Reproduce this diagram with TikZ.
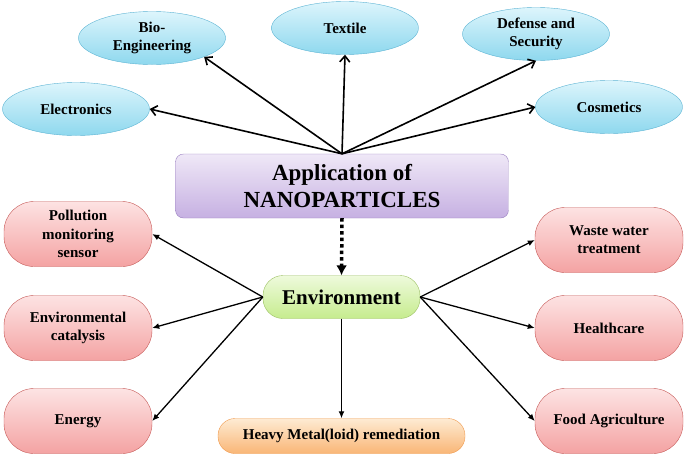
\documentclass[tikz,border=0pt]{standalone}
\usepackage{fontspec}
\setmainfont{Liberation Serif}
\usetikzlibrary{arrows.meta,shapes.geometric,positioning}
\definecolor{cyanTop}{HTML}{DDF5FC}
\definecolor{cyanBot}{HTML}{8ED8EE}
\definecolor{cyanLine}{HTML}{5BB3D3}
\definecolor{lilacTop}{HTML}{EFE8F7}
\definecolor{lilacBot}{HTML}{C6B0E2}
\definecolor{lilacLine}{HTML}{9A80C0}
\definecolor{pinkTop}{HTML}{FDE3E3}
\definecolor{pinkBot}{HTML}{F4A2A2}
\definecolor{pinkLine}{HTML}{C65A58}
\definecolor{greenTop}{HTML}{EEFADC}
\definecolor{greenBot}{HTML}{C6EC8E}
\definecolor{greenLine}{HTML}{9CC063}
\definecolor{orangeTop}{HTML}{FEEBD3}
\definecolor{orangeBot}{HTML}{F9B676}
\definecolor{orangeLine}{HTML}{F09A4E}
\tikzset{%
	app/.style      = {draw=lilacLine, rectangle, rounded corners=8pt, top color=lilacTop, bottom color=lilacBot, minimum width=333pt, minimum height=64pt, align=center, font=\fontsize{23}{27}\selectfont\bfseries},
	usage/.style    = {draw=cyanLine, ellipse, top color=cyanTop, bottom color=cyanBot, minimum width=147pt, minimum height=53pt, inner sep=0pt, align=center, font=\fontsize{15}{18}\selectfont\bfseries}, % upper fields
	field/.style    = {draw=pinkLine, rectangle, rounded corners=30pt, top color=pinkTop, bottom color=pinkBot, minimum width=148pt, minimum height=65pt, align=center, font=\fontsize{15}{18.3}\selectfont\bfseries}, % environment fields
	env/.style      = {draw=greenLine, rectangle, rounded corners=20pt, top color=greenTop, bottom color=greenBot, minimum width=157pt, minimum height=43pt, font=\fontsize{21}{25}\selectfont\bfseries},
	remedy/.style   = {draw=orangeLine, rectangle, rounded corners=17pt, top color=orangeTop, bottom color=orangeBot, minimum width=247pt, minimum height=35pt, font=\fontsize{15}{18}\selectfont\bfseries},
	uparrow/.style  = {line width=1.6pt, -{Straight Barb[length=6pt,width=10pt,line width=1.6pt]}},
	downarrow/.style= {line width=1.3pt, -{Latex[length=7pt,width=6pt]}},
	dotarrow/.style = {line width=3.5pt, dash pattern=on 3.5pt off 3pt, -{Latex[length=10pt,width=11pt]}},
}
\begin{document}
\begin{tikzpicture}[x=1pt,y=-1pt]
	\useasboundingbox (0,0) rectangle (685,461);
	\node[app] (app) at (342,186) {Application of\\NANOPARTICLES};
	\node[usage] (elec) at (76,109) {Electronics};
	\node[usage] (bio) at (152,38) {Bio-\\Engineering};
	\node[usage] (textile) at (345,28) {Textile};
	\node[usage] (defense) at (536,34) {Defense and\\Security};
	\node[usage] (cosm) at (609,107) {Cosmetics};
	\node[env] (env) at (341.5,297) {Environment};
	\node[field] (pollution) at (78,234) {Pollution\\monitoring\\sensor};
	\node[field] (catalysis) at (78,328) {Environmental\\catalysis};
	\node[field] (energy) at (78,421) {Energy};
	\node[field] (waste) at (609,240) {Waste water\\treatment};
	\node[field] (health) at (609,328) {Healthcare};
	\node[field] (food) at (609,421) {Food Agriculture};
	\node[remedy] (metal) at (341.5,436) {Heavy Metal(loid) remediation};
	
	\draw[uparrow] (app.north) -- (elec.east);
	\draw[uparrow] (app.north) -- (bio.south east);
	\draw[uparrow] (app.north) -- (textile.south);
	\draw[uparrow] (app.north) -- (defense.south);
	\draw[uparrow] (app.north) -- (cosm.west);
	\draw[dotarrow] (app.south) -- (env.north);
	\draw[downarrow] (env.west) -- (pollution.east);
	\draw[downarrow] (env.west) -- (catalysis.east);
	\draw[downarrow] (env.west) -- (energy.east);
	\draw[downarrow] (env.east) -- (waste.west);
	\draw[downarrow] (env.east) -- (health.west);
	\draw[downarrow] (env.east) -- (food.west);
	\draw[downarrow] (env.south) -- (metal.north);
\end{tikzpicture}
\end{document}
